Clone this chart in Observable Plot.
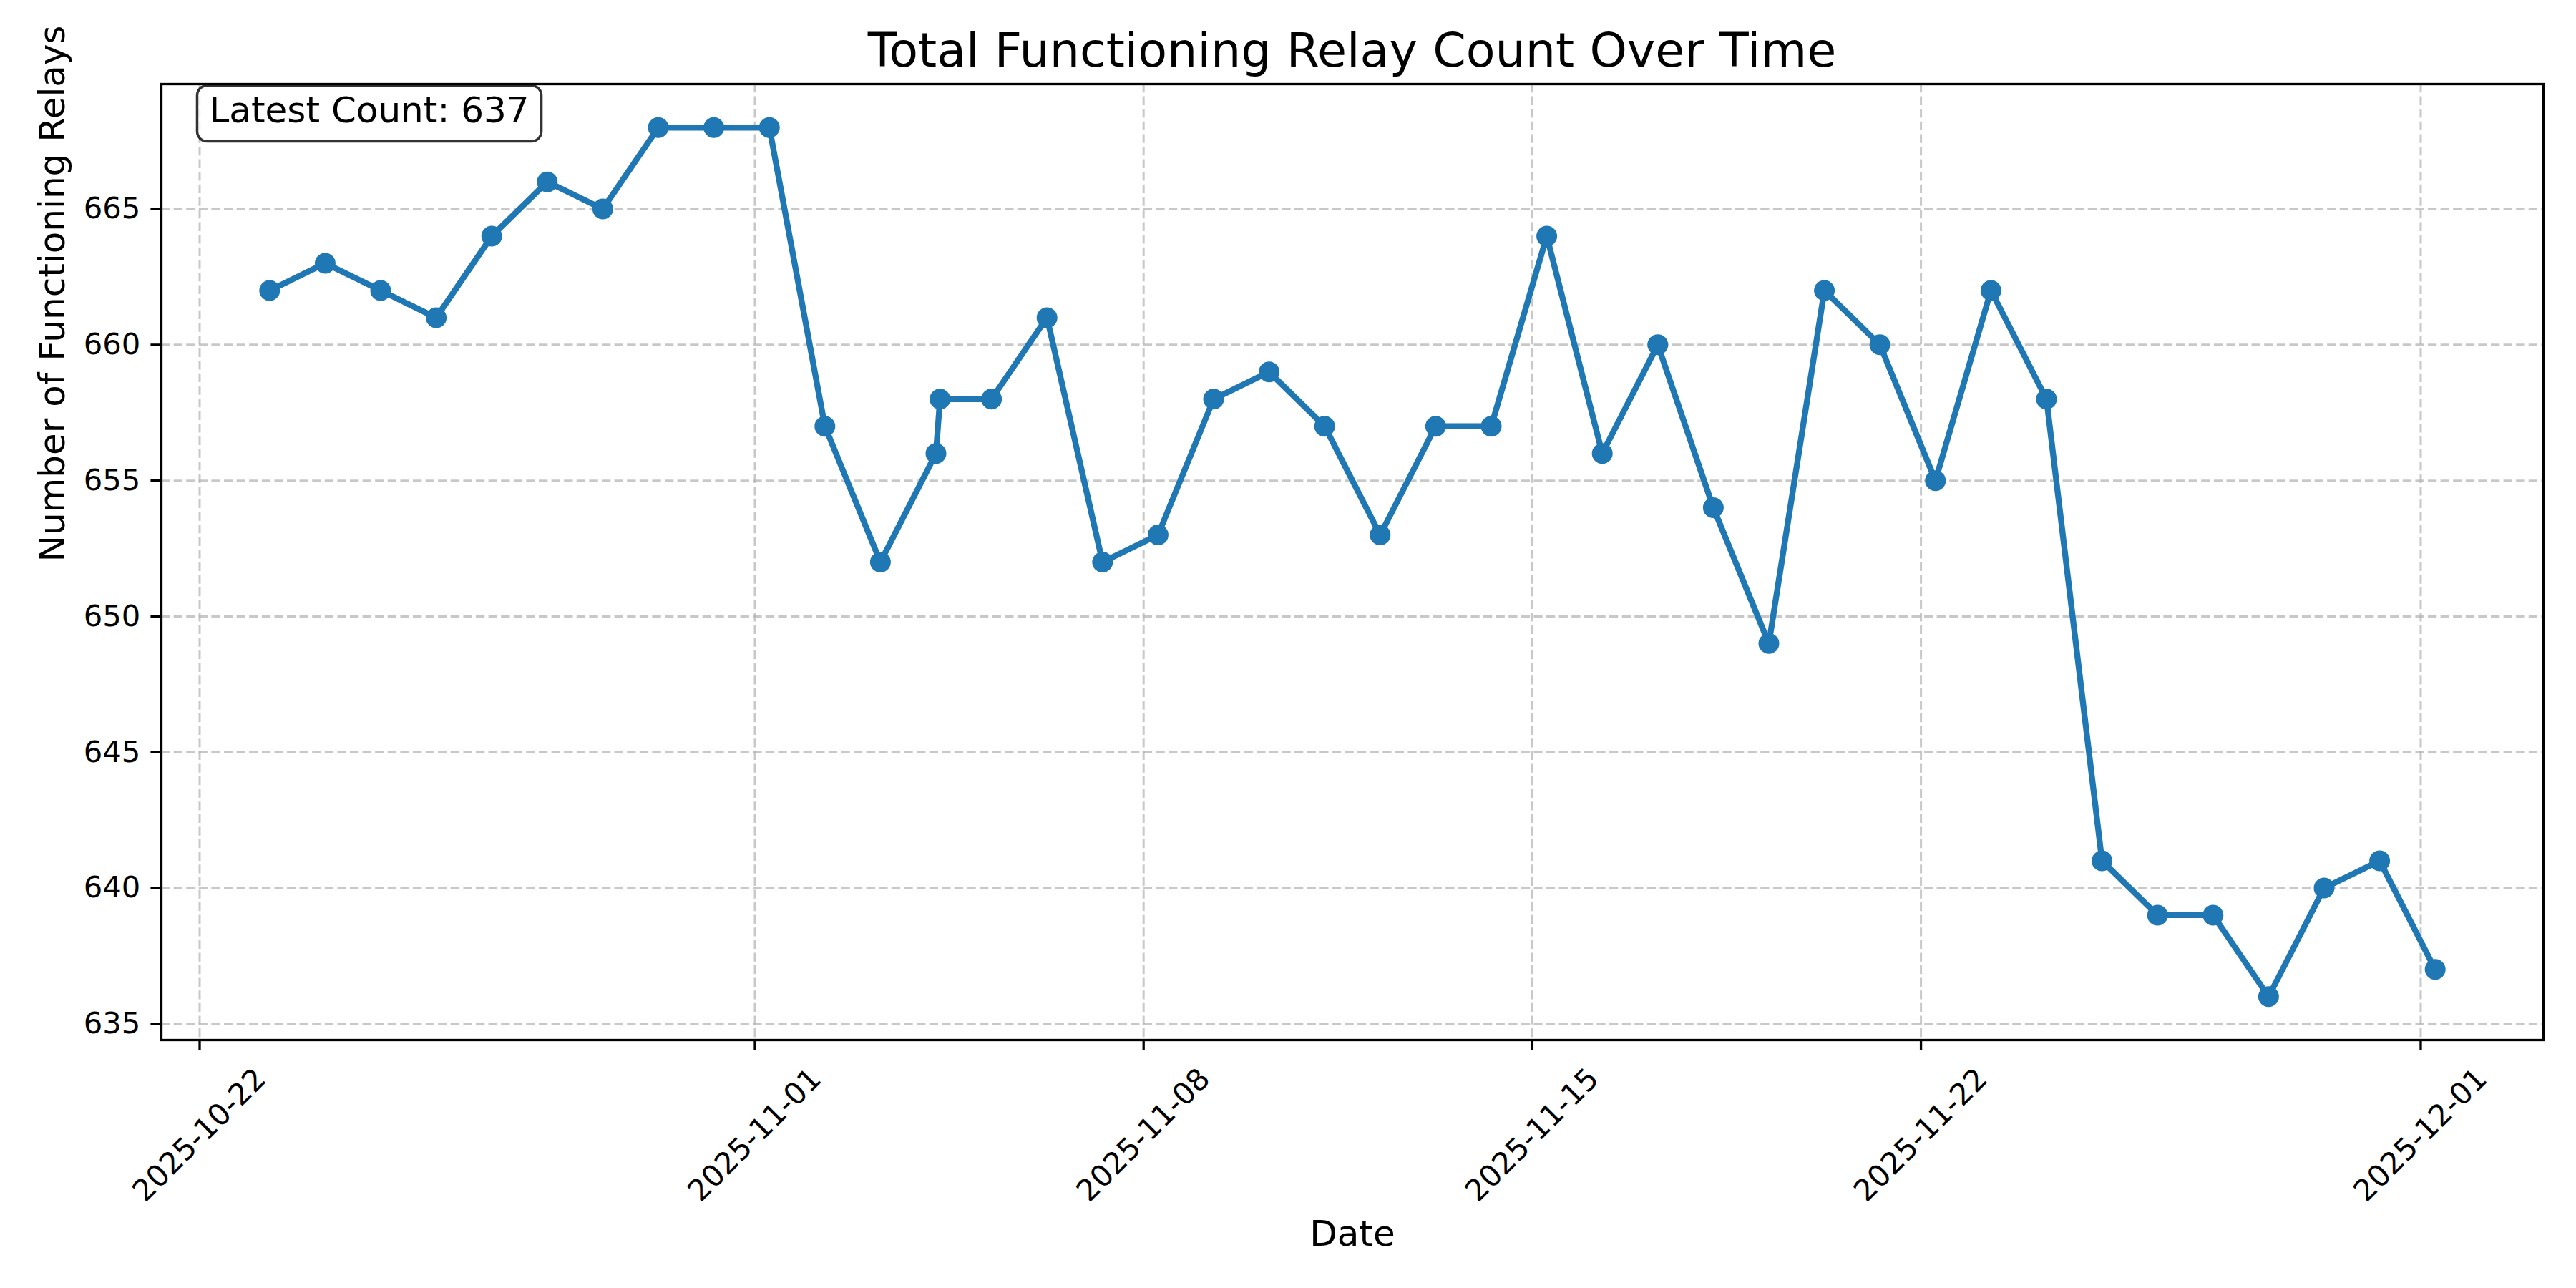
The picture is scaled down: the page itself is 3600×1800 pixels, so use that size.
<!DOCTYPE html>
<html>
<head>
<meta charset="utf-8">
<script src="https://cdn.jsdelivr.net/npm/d3@7"></script>
<script src="https://cdn.jsdelivr.net/npm/@observablehq/plot@0.6"></script>
<style>
  html, body { margin: 0; padding: 0; background: #fff; }
  #wrap { width: 3600px; height: 1800px; font-family: "DejaVu Sans", sans-serif; }
  #title { height: 110px; box-sizing: border-box; padding-top: 30px; line-height: 80px;
           font-size: 66.7px; text-align: left; padding-left: 0; color: #000; white-space: nowrap; }
  #title span { display: inline-block; }
</style>
</head>
<body>
<div id="wrap">
  <div id="title"><span id="titleText">Total Functioning Relay Count Over Time</span></div>
  <div id="chart"></div>
</div>
<script>
// ---- data ----
const timestamps = [
  "2025-10-23T06:15Z", "2025-10-24T06:15Z", "2025-10-25T06:15Z", "2025-10-26T06:15Z",
  "2025-10-27T06:15Z", "2025-10-28T06:15Z", "2025-10-29T06:15Z", "2025-10-30T06:15Z",
  "2025-10-31T06:15Z", "2025-11-01T06:15Z", "2025-11-02T06:15Z", "2025-11-03T06:15Z",
  "2025-11-04T06:15Z", "2025-11-04T08:00Z", "2025-11-05T06:15Z", "2025-11-06T06:15Z",
  "2025-11-07T06:15Z", "2025-11-08T06:15Z", "2025-11-09T06:15Z", "2025-11-10T06:15Z",
  "2025-11-11T06:15Z", "2025-11-12T06:15Z", "2025-11-13T06:15Z", "2025-11-14T06:15Z",
  "2025-11-15T06:15Z", "2025-11-16T06:15Z", "2025-11-17T06:15Z", "2025-11-18T06:15Z",
  "2025-11-19T06:15Z", "2025-11-20T06:15Z", "2025-11-21T06:15Z", "2025-11-22T06:15Z",
  "2025-11-23T06:15Z", "2025-11-24T06:15Z", "2025-11-25T06:15Z", "2025-11-26T06:15Z",
  "2025-11-27T06:15Z", "2025-11-28T06:15Z", "2025-11-29T06:15Z", "2025-11-30T06:15Z",
  "2025-12-01T06:15Z"
];
const counts = [
  662, 663, 662, 661, 664, 666, 665, 668, 668, 668, 657, 652,
  656, 658, 658, 661, 652, 653, 658, 659, 657, 653, 657, 657,
  664, 656, 660, 654, 649, 662, 660, 655, 662, 658, 641, 639,
  639, 636, 640, 641, 637
];
const xTickLabels = ["2025-10-22", "2025-11-01", "2025-11-08", "2025-11-15", "2025-11-22", "2025-12-01"];
const yTickValues = [635, 640, 645, 650, 655, 660, 665];
const titleText = "Total Functioning Relay Count Over Time";
const xLabel = "Date";
const yLabel = "Number of Functioning Relays";

// ---- build table ----
const data = timestamps.map((t, i) => ({date: new Date(t), count: counts[i]}));
const xTicks = xTickLabels.map(s => new Date(s + "T00:00Z"));

// matplotlib-style 5% margins
const [x0, x1] = d3.extent(data, d => +d.date);
const [y0, y1] = d3.extent(data, d => d.count);
const xPad = (x1 - x0) * 0.05, yPad = (y1 - y0) * 0.05;

const blue = "#1f77b4";
const fontFamily = "DejaVu Sans, sans-serif";
const tickFmt = d3.utcFormat("%Y-%m-%d");

const plot = Plot.plot({
  width: 3600,
  height: 1690,
  marginTop: 7,
  marginLeft: 225,
  marginRight: 46,
  marginBottom: 347,
  style: {fontFamily, fontSize: "41.7px", background: "#fff", color: "#000", overflow: "visible"},
  x: {type: "utc", domain: [new Date(x0 - xPad), new Date(x1 + xPad)]},
  y: {domain: [y0 - yPad, y1 + yPad]},
  marks: [
    Plot.gridX(xTicks, {stroke: "#b0b0b0", strokeOpacity: 0.7, strokeWidth: 3, strokeDasharray: "12.3,5.3"}),
    Plot.gridY(yTickValues, {stroke: "#b0b0b0", strokeOpacity: 0.7, strokeWidth: 3, strokeDasharray: "12.3,5.3"}),
    Plot.axisX({ticks: xTicks, tickSize: 14.6, strokeWidth: 3.3, tickFormat: () => "", label: null}),
    Plot.text(xTicks, {x: d => d, frameAnchor: "bottom", dy: 133, rotate: -45,
      textAnchor: "middle", lineAnchor: "middle", text: d => tickFmt(d), fontSize: 41.7}),
    Plot.axisY({ticks: yTickValues, tickSize: 14.6, tickPadding: 14.6, strokeWidth: 3.3,
      label: null, fontSize: 41.7}),
    Plot.text([xLabel], {text: d => d, frameAnchor: "bottom", dy: 271, lineAnchor: "middle", fontSize: 50}),
    Plot.text([yLabel], {text: d => d, frameAnchor: "left", dx: -152, rotate: -90, lineAnchor: "middle", fontSize: 50}),
    Plot.line(data, {x: "date", y: "count", stroke: blue, strokeWidth: 8.3, strokeLinejoin: "round", strokeLinecap: "butt"}),
    Plot.dot(data, {x: "date", y: "count", r: 14.5, fill: blue, stroke: "none"}),
    Plot.text([`Latest Count: ${counts[counts.length - 1]}`], {text: d => d, frameAnchor: "top-left",
      dx: 67, dy: 17.5, textAnchor: "start", lineAnchor: "top", fontSize: 50}),
    Plot.frame({stroke: "#000", strokeWidth: 3.3})
  ]
});

document.getElementById("chart").appendChild(plot);

// Title centered over the plot frame
const tspan = document.getElementById("titleText");
const frameCenter = (225 + (3600 - 46)) / 2;
tspan.style.marginLeft = (frameCenter - tspan.getBoundingClientRect().width / 2) + "px";

// Rounded box behind the annotation text, sized from the text's own bounds
const ann = Array.from(plot.querySelectorAll("text")).find(t => t.textContent.startsWith("Latest Count"));
if (ann) {
  const bb = ann.getBBox();
  const ns = "http://www.w3.org/2000/svg";
  const rect = document.createElementNS(ns, "rect");
  const padX = 17, padTop = 5, padBottom = 15;
  rect.setAttribute("x", bb.x - padX);
  rect.setAttribute("y", bb.y - padTop);
  rect.setAttribute("width", bb.width + 2 * padX);
  rect.setAttribute("height", bb.height + padTop + padBottom);
  rect.setAttribute("rx", 14);
  rect.setAttribute("fill", "#fff");
  rect.setAttribute("fill-opacity", 0.8);
  rect.setAttribute("stroke", "#000");
  rect.setAttribute("stroke-opacity", 0.8);
  rect.setAttribute("stroke-width", 3.5);
  const g = ann.parentNode;
  const tr = ann.getAttribute("transform");
  if (tr) rect.setAttribute("transform", tr);
  g.insertBefore(rect, ann);
}
</script>
</body>
</html>
